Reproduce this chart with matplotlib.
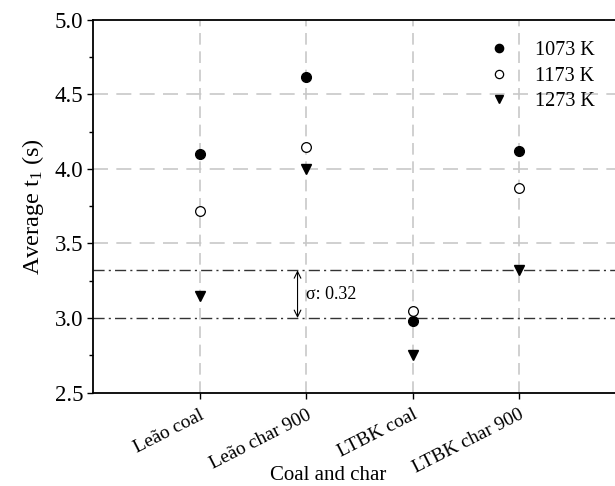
import matplotlib
matplotlib.use("Agg")
import matplotlib.pyplot as plt
from matplotlib.ticker import MultipleLocator

plt.rcParams['font.family'] = ['Liberation Serif', 'DejaVu Serif']
plt.rcParams['mathtext.fontset'] = 'custom'
plt.rcParams['mathtext.rm'] = 'Liberation Serif'
plt.rcParams['mathtext.it'] = 'Liberation Serif'

samples = ["Leão coal", "Leão char 900", "LTBK coal", "LTBK char 900"]
t_1073 = [4.10, 4.62, 2.98, 4.12]
t_1173 = [3.72, 4.15, 3.05, 3.87]
t_1273 = [3.15, 4.00, 2.75, 3.32]
band_low = 3.00
band_high = 3.32
sigma = 0.32

fig = plt.figure(figsize=(6.15, 4.86), dpi=100)
ax = fig.add_axes([93 / 615, 1 - 392.5 / 486, 1 - 93 / 615, (392.5 - 20) / 486])

x = list(range(1, len(samples) + 1))

ax.set_xlim(0, 4.9)
ax.set_ylim(2.5, 5.0)

# grid
for xi in x:
    ax.axvline(xi, color='#c8c8c8', ls=(0, (7, 4)), lw=1.2, zorder=0)
for yv in [3.5, 4.0, 4.5]:
    ax.axhline(yv, color='#c8c8c8', ls=(0, (9, 5)), lw=1.2, zorder=0)

# sigma band
for yv in [band_low, band_high]:
    ax.axhline(yv, color='#333333', ls=(0, (8, 3, 1.5, 3)), lw=1.0, zorder=1)
ax.annotate('', xy=(1.92, band_low), xytext=(1.92, band_high),
            arrowprops=dict(arrowstyle='<->', color='black', lw=0.8,
                            shrinkA=0, shrinkB=0, mutation_scale=12))
ax.text(2.0, 3.16, f"σ: {sigma:.2f}", fontsize=13, va='center', ha='left')

ax.plot(x, t_1073, 'o', color='black', ms=7, ls='none', label='1073 K', zorder=3)
ax.plot(x, t_1173, 'o', mfc='white', mec='black', mew=0.9, ms=7, ls='none',
        label='1173 K', zorder=3)
ax.plot(x, t_1273, 'v', color='black', ms=7, ls='none', label='1273 K', zorder=3)

ax.set_xticks(x)
ax.set_xticklabels(samples, rotation=27, ha='right', rotation_mode='anchor',
                   fontsize=14)
ax.yaxis.set_major_locator(MultipleLocator(0.5))
ax.yaxis.set_minor_locator(MultipleLocator(0.25))
ax.set_yticklabels([f"{v:.1f}" for v in ax.get_yticks()], fontsize=16.5)
ax.tick_params(axis='y', which='major', length=4, width=1, direction='out', pad=3)
ax.tick_params(axis='y', which='minor', length=3, width=1, direction='out')
ax.tick_params(axis='x', which='major', length=4, width=1, direction='out', pad=6)

for s in ['left', 'bottom', 'top']:
    ax.spines[s].set_linewidth(1.3)
ax.spines['right'].set_visible(False)

fig.text(328 / 615, 1 - 475 / 486, 'Coal and char', fontsize=15,
         ha='center', va='center')
ax.set_ylabel('Average t$_1$ (s)', fontsize=17.5, labelpad=6)

leg = ax.legend(loc='upper right', bbox_to_anchor=(0.985, 0.975), frameon=False,
                fontsize=14.5, handletextpad=1.3, labelspacing=0.3,
                borderaxespad=0.2, handlelength=1.0, markerscale=0.85)

fig.savefig('out.png', dpi=100)
